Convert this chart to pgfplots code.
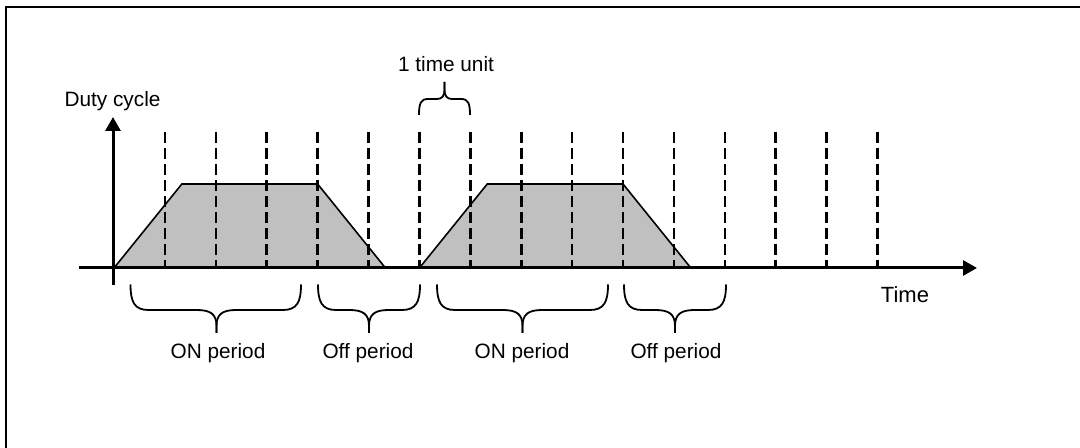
\documentclass[border=0pt]{standalone}
\usepackage{pgfplots}
\pgfplotsset{compat=1.18}
\usepackage{fontspec}
\setmainfont{Liberation Sans}
\usetikzlibrary{arrows.meta}
\definecolor{trapfill}{RGB}{192,192,192}
% bottom brace: #1 left end, #2 right end, #3 tip x
\newcommand{\bbrace}[3]{%
  \draw[line width=0.9pt, line join=round]
    (#1,284.5) .. controls (#1,302) and ({#1+4},310) .. ({#1+18},310) -- ({#3-20},310)
    .. controls ({#3-6},310) and (#3,314) .. (#3,326) -- (#3,333);
  \draw[line width=0.9pt, line join=round]
    (#2,284.5) .. controls (#2,302) and ({#2-4},310) .. ({#2-18},310) -- ({#3+20},310)
    .. controls ({#3+6},310) and (#3,314) .. (#3,326) -- (#3,333);
}
\begin{document}
\begin{tikzpicture}
\begin{axis}[
  x=25.45pt, y=42pt,
  xmin=-2.2397, xmax=18.978, ymin=-2.1429, ymax=3.1905,
  hide axis, clip=false, unbounded coords=jump,
]
% ON periods (duty cycle ramps)
\addplot[draw=black, line width=0.8pt, fill=trapfill] coordinates {(0,0) (1.333,1) (4,1) (5.333,0)} \closedcycle;
\addplot[draw=black, line width=0.8pt, fill=trapfill] coordinates {(6,0) (7.333,1) (10,1) (11.333,0)} \closedcycle;
% time unit markers
\addplot[black, line width=1.3pt, dash pattern=on 5.5pt off 2.5pt] coordinates {
 (1,1.62) (1,0) (1,nan)
 (2,1.62) (2,0) (2,nan)
 (3,1.62) (3,0) (3,nan)
 (4,1.62) (4,0) (4,nan)
 (5,1.62) (5,0) (5,nan)
 (6,1.62) (6,0) (6,nan)
 (7,1.62) (7,0) (7,nan)
 (8,1.62) (8,0) (8,nan)
 (9,1.62) (9,0) (9,nan)
 (10,1.62) (10,0) (10,nan)
 (11,1.62) (11,0) (11,nan)
 (12,1.62) (12,0) (12,nan)
 (13,1.62) (13,0) (13,nan)
 (14,1.62) (14,0) (14,nan)
 (15,1.62) (15,0)
};
\coordinate (TL) at (axis cs:-2.2397,3.1905);
\end{axis}
\begin{scope}[shift={(TL)}, x=0.5pt, y=-0.5pt]
  \draw[line width=1pt] (6,448) -- (6,7) -- (1080,7);
  \draw[line width=1.5pt, -{Triangle[length=7pt,width=7.5pt]}] (79,268) -- (977,268);
  \draw[line width=1.5pt, -{Triangle[length=7pt,width=7.5pt]}] (113,285) -- (113,117);
  \bbrace{130.5}{301}{216.5}
  \bbrace{318}{420}{369}
  \bbrace{437}{608}{522.5}
  \bbrace{624}{726}{675}
  % top brace (1 time unit)
  \draw[line width=0.9pt, line join=round]
    (419,115) .. controls (419,103) and (421,99) .. (428,99) -- (437,99)
    .. controls (442,99) and (444.5,96) .. (444.5,90) -- (444.5,82);
  \draw[line width=0.9pt, line join=round]
    (470,115) .. controls (470,103) and (468,99) .. (461,99) -- (452,99)
    .. controls (447,99) and (444.5,96) .. (444.5,90) -- (444.5,82);
  \begin{scope}[every node/.style={anchor=base, inner sep=0pt, font=\fontsize{10.4}{12}\selectfont}]
    \node at (446,71.7) {1 time unit};
    \node at (112.5,107) {Duty cycle};
    \node at (218,358.3) {ON period};
    \node at (368,358.3) {Off period};
    \node at (522,358.3) {ON period};
    \node at (676,358.3) {Off period};
    \node[font=\fontsize{11}{13}\selectfont] at (905,303) {Time};
  \end{scope}
  \pgfresetboundingbox
  \useasboundingbox (0,0) rectangle (1080,448);
\end{scope}
\end{tikzpicture}
\end{document}
